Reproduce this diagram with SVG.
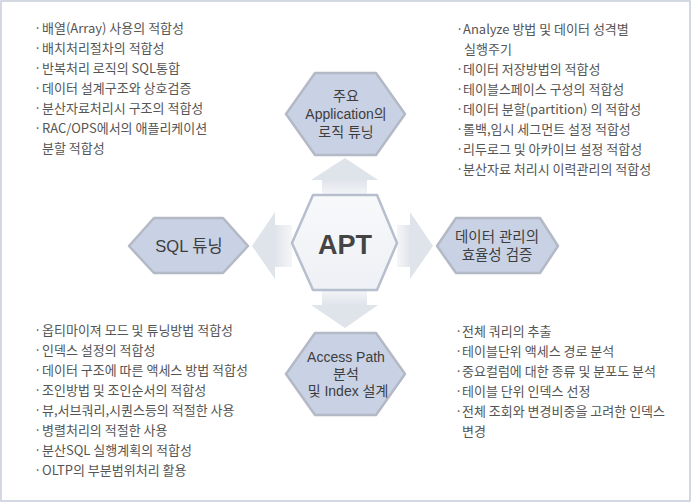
<svg xmlns="http://www.w3.org/2000/svg" width="692" height="503" viewBox="0 0 692 503">
<style>
.hex{fill:#c9d1e4;stroke:#b3b9c5;stroke-width:2.5;stroke-linejoin:round}
.hexc{fill:url(#gc);stroke:#b7bfce;stroke-width:2.5;stroke-linejoin:round}
.ht{font-family:"Liberation Sans","Noto Sans CJK KR",sans-serif;font-size:14px;fill:#3d3d3d;text-anchor:middle}
.li{font-family:"Noto Sans CJK KR","Liberation Sans",sans-serif;font-size:13px;fill:#555555}
.head{fill:#dfe3ea}
</style>
<defs>
<linearGradient id="gc" x1="0" y1="0" x2="0" y2="1">
<stop offset="0" stop-color="#f8f9fb"/><stop offset="1" stop-color="#eef0f5"/>
</linearGradient>
<linearGradient id="gu" x1="0" y1="0" x2="0" y2="1">
<stop offset="0" stop-color="#dfe3ea"/><stop offset="1" stop-color="#f5f6f8"/>
</linearGradient>
<linearGradient id="gd" x1="0" y1="1" x2="0" y2="0">
<stop offset="0" stop-color="#dfe3ea"/><stop offset="1" stop-color="#f5f6f8"/>
</linearGradient>
<linearGradient id="gl" x1="0" y1="0" x2="1" y2="0">
<stop offset="0" stop-color="#dfe3ea"/><stop offset="1" stop-color="#f5f6f8"/>
</linearGradient>
<linearGradient id="gr" x1="1" y1="0" x2="0" y2="0">
<stop offset="0" stop-color="#dfe3ea"/><stop offset="1" stop-color="#f5f6f8"/>
</linearGradient>
</defs>
<rect x="0" y="0" width="692" height="503" fill="#ffffff"/>
<rect x="1" y="1" width="689" height="500" fill="none" stroke="#c5ccd9" stroke-width="1.5"/>

<g id="connectors">
<rect x="322" y="179" width="45" height="17" fill="url(#gu)"/>
<polygon class="head" points="345,158 378,180 311,180"/>
<rect x="322" y="289" width="45" height="17" fill="url(#gd)"/>
<polygon class="head" points="311,305 378,305 345,328"/>
<rect x="274" y="225" width="18" height="42" fill="url(#gl)"/>
<polygon class="head" points="252,246 275,212 275,279"/>
<rect x="397" y="225" width="14" height="42" fill="url(#gr)"/>
<polygon class="head" points="410,212 433,246 410,279"/>
</g>

<g id="apt">
<polygon class="hexc" points="313,195 377,195 397,243 377,290 313,290 292,243"/>
<text x="345" y="254" style="font-family:'Liberation Sans',sans-serif;font-size:27px;font-weight:bold;fill:#444444" text-anchor="middle">APT</text>
</g>

<g id="app-logic">
<polygon class="hex" points="315,73 376,73 405,114 376,155 315,155 286,114"/>
<text class="ht"><tspan x="346" y="101">주요</tspan><tspan x="346" y="119">Application의</tspan><tspan x="346" y="137">로직 튜닝</tspan></text>
</g>

<g id="sql-tuning">
<polygon class="hex" points="154,218 223,218 248,246 223,273 154,273 129,246"/>
<text class="ht" x="189" y="252" style="font-size:16.5px">SQL 튜닝</text>
</g>

<g id="data-mgmt">
<polygon class="hex" points="456,218 540,218 558,246 540,273 456,273 437,246"/>
<text class="ht" style="font-size:14.5px"><tspan x="497" y="242">데이터 관리의</tspan><tspan x="497" y="260">효율성 검증</tspan></text>
</g>

<g id="access-path">
<polygon class="hex" points="315,333 376,333 405,374 376,415 315,415 286,374"/>
<text class="ht"><tspan x="346" y="362">Access Path</tspan><tspan x="346" y="379">분석</tspan><tspan x="348" y="396">및 Index 설계</tspan></text>
</g>

<g id="list-top-left">
<text class="li"><tspan x="34" y="33">·</tspan><tspan x="42" y="33">배열(Array) 사용의 적합성</tspan></text>
<text class="li"><tspan x="34" y="53">·</tspan><tspan x="42" y="53">배치처리절차의 적합성</tspan></text>
<text class="li"><tspan x="34" y="73">·</tspan><tspan x="42" y="73">반복처리 로직의 SQL통합</tspan></text>
<text class="li"><tspan x="34" y="93">·</tspan><tspan x="42" y="93">데이터 설계구조와 상호검증</tspan></text>
<text class="li"><tspan x="34" y="113">·</tspan><tspan x="42" y="113">분산자료처리시 구조의 적합성</tspan></text>
<text class="li"><tspan x="34" y="133">·</tspan><tspan x="42" y="133">RAC/OPS에서의 애플리케이션</tspan></text>
<text class="li" x="42" y="153">분할 적합성</text>
</g>

<g id="list-top-right">
<text class="li"><tspan x="456" y="34">·</tspan><tspan x="463" y="34">Analyze 방법 및 데이터 성격별</tspan></text>
<text class="li" x="464" y="54">실행주기</text>
<text class="li"><tspan x="456" y="74">·</tspan><tspan x="463" y="74">데이터 저장방법의 적합성</tspan></text>
<text class="li"><tspan x="456" y="94">·</tspan><tspan x="463" y="94">테이블스페이스 구성의 적합성</tspan></text>
<text class="li"><tspan x="456" y="114">·</tspan><tspan x="463" y="114">데이터 분할(partition) 의 적합성</tspan></text>
<text class="li"><tspan x="456" y="134">·</tspan><tspan x="463" y="134">롤백,임시 세그먼트 설정 적합성</tspan></text>
<text class="li"><tspan x="456" y="154">·</tspan><tspan x="463" y="154">리두로그 및 아카이브 설정 적합성</tspan></text>
<text class="li"><tspan x="456" y="174">·</tspan><tspan x="463" y="174">분산자료 처리시 이력관리의 적합성</tspan></text>
</g>

<g id="list-bottom-left">
<text class="li"><tspan x="34" y="335">·</tspan><tspan x="42" y="335">옵티마이져 모드 및 튜닝방법 적합성</tspan></text>
<text class="li"><tspan x="34" y="355">·</tspan><tspan x="42" y="355">인덱스 설정의 적합성</tspan></text>
<text class="li"><tspan x="34" y="375">·</tspan><tspan x="42" y="375">데이터 구조에 따른 액세스 방법 적합성</tspan></text>
<text class="li"><tspan x="34" y="395">·</tspan><tspan x="42" y="395">조인방법 및 조인순서의 적합성</tspan></text>
<text class="li"><tspan x="34" y="415">·</tspan><tspan x="42" y="415">뷰,서브쿼리,시퀀스등의 적절한 사용</tspan></text>
<text class="li"><tspan x="34" y="435">·</tspan><tspan x="42" y="435">병렬처리의 적절한 사용</tspan></text>
<text class="li"><tspan x="34" y="455">·</tspan><tspan x="42" y="455">분산SQL 실행계획의 적합성</tspan></text>
<text class="li"><tspan x="34" y="475">·</tspan><tspan x="42" y="475">OLTP의 부분범위처리 활용</tspan></text>
</g>

<g id="list-bottom-right">
<text class="li"><tspan x="455" y="336">·</tspan><tspan x="462" y="336">전체 쿼리의 추출</tspan></text>
<text class="li"><tspan x="455" y="356">·</tspan><tspan x="462" y="356">테이블단위 액세스 경로 분석</tspan></text>
<text class="li"><tspan x="455" y="376">·</tspan><tspan x="462" y="376">중요컬럼에 대한 종류 및 분포도 분석</tspan></text>
<text class="li"><tspan x="455" y="396">·</tspan><tspan x="462" y="396">테이블 단위 인덱스 선정</tspan></text>
<text class="li"><tspan x="455" y="416">·</tspan><tspan x="462" y="416">전체 조회와 변경비중을 고려한 인덱스</tspan></text>
<text class="li" x="462" y="436">변경</text>
</g>
</svg>
